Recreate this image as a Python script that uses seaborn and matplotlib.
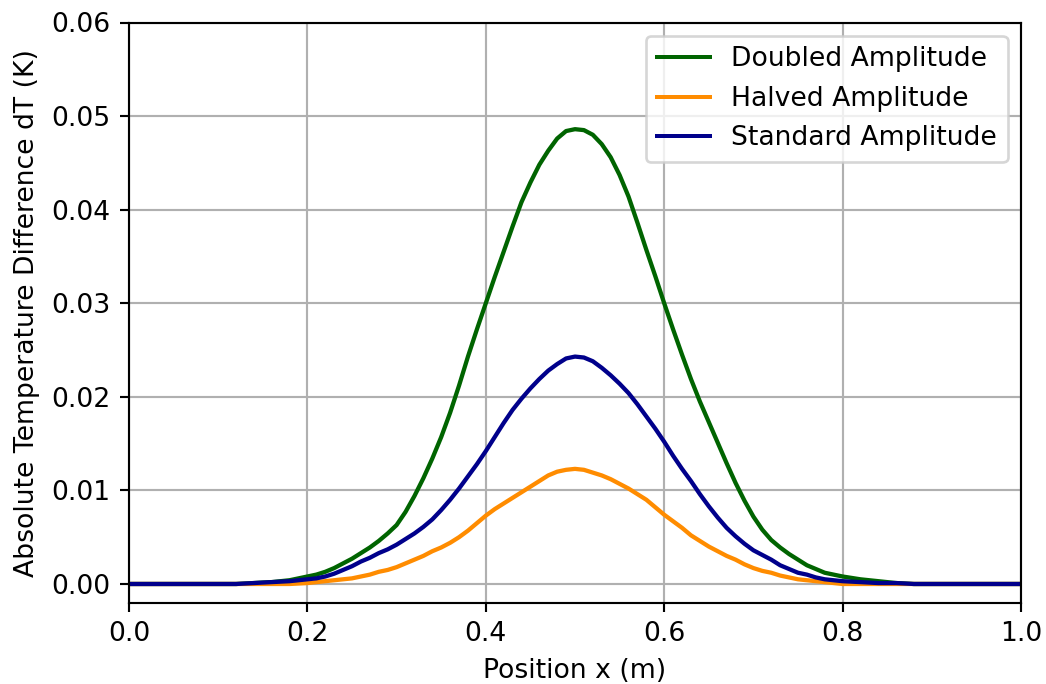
import numpy as np
import pandas as pd
import matplotlib
matplotlib.use("Agg")
import matplotlib.pyplot as plt
import seaborn as sns

# Position grid (m): coarse on the flat tails, finer across the pulse
position = ([0.00, 0.02, 0.04, 0.06, 0.08, 0.10, 0.12, 0.14, 0.16, 0.18] +
            [0.20, 0.21, 0.22, 0.23, 0.24, 0.25, 0.26, 0.27, 0.28, 0.29,
             0.30, 0.31, 0.32, 0.33, 0.34, 0.35, 0.36, 0.37, 0.38, 0.39,
             0.40, 0.41, 0.42, 0.43, 0.44, 0.45, 0.46, 0.47, 0.48, 0.49,
             0.50, 0.51, 0.52, 0.53, 0.54, 0.55, 0.56, 0.57, 0.58, 0.59,
             0.60, 0.61, 0.62, 0.63, 0.64, 0.65, 0.66, 0.67, 0.68, 0.69,
             0.70, 0.71, 0.72, 0.73, 0.74, 0.75, 0.76, 0.77, 0.78, 0.79, 0.80] +
            [0.82, 0.84, 0.86, 0.88, 0.90, 0.92, 0.94, 0.96, 0.98, 1.00])

doubled = ([0, 0, 0, 0, 0, 0, 0, 0.0001, 0.0002, 0.0004] +
           [0.0008, 0.0010, 0.0013, 0.0017, 0.0022, 0.0027, 0.0033, 0.0039, 0.0046, 0.0054,
            0.0063, 0.0077, 0.0094, 0.0113, 0.0134, 0.0157, 0.0183, 0.0212, 0.0243, 0.0272,
            0.0300, 0.0328, 0.0355, 0.0382, 0.0408, 0.0429, 0.0448, 0.0463, 0.0476, 0.0484,
            0.0486, 0.0485, 0.0480, 0.0470, 0.0456, 0.0437, 0.0414, 0.0386, 0.0357, 0.0329,
            0.0300, 0.0272, 0.0245, 0.0219, 0.0195, 0.0173, 0.0151, 0.0129, 0.0108, 0.0089,
            0.0072, 0.0058, 0.0047, 0.0039, 0.0032, 0.0026, 0.0020, 0.0016, 0.0012, 0.0010, 0.0008] +
           [0.0005, 0.0003, 0.0001, 0, 0, 0, 0, 0, 0, 0])

halved = ([0, 0, 0, 0, 0, 0, 0, 0, 0, 0] +
          [0.0001, 0.0002, 0.0003, 0.0004, 0.0005, 0.0006, 0.0008, 0.0010, 0.0013, 0.0015,
           0.0018, 0.0022, 0.0026, 0.0030, 0.0035, 0.0039, 0.0044, 0.0050, 0.0057, 0.0065,
           0.0073, 0.0080, 0.0086, 0.0092, 0.0098, 0.0104, 0.0110, 0.0116, 0.0120, 0.0122,
           0.0123, 0.0122, 0.0119, 0.0116, 0.0112, 0.0107, 0.0102, 0.0096, 0.0090, 0.0082,
           0.0074, 0.0067, 0.0060, 0.0052, 0.0046, 0.0040, 0.0035, 0.0030, 0.0026, 0.0021,
           0.0017, 0.0014, 0.0012, 0.0009, 0.0007, 0.0005, 0.0004, 0.0003, 0.0002, 0.0001, 0] +
          [0, 0, 0, 0, 0, 0, 0, 0, 0, 0])

standard = ([0, 0, 0, 0, 0, 0, 0, 0.0001, 0.0002, 0.0003] +
            [0.0005, 0.0006, 0.0008, 0.0011, 0.0015, 0.0019, 0.0024, 0.0028, 0.0033, 0.0037,
             0.0042, 0.0048, 0.0054, 0.0061, 0.0069, 0.0079, 0.0090, 0.0102, 0.0115, 0.0128,
             0.0142, 0.0157, 0.0172, 0.0186, 0.0198, 0.0209, 0.0219, 0.0228, 0.0235, 0.0241,
             0.0243, 0.0242, 0.0238, 0.0231, 0.0223, 0.0214, 0.0204, 0.0192, 0.0179, 0.0166,
             0.0152, 0.0137, 0.0123, 0.0110, 0.0096, 0.0083, 0.0071, 0.0060, 0.0051, 0.0043,
             0.0036, 0.0031, 0.0026, 0.0020, 0.0016, 0.0012, 0.0010, 0.0007, 0.0005, 0.0004, 0.0003] +
            [0.0002, 0.0001, 0.0001, 0, 0, 0, 0, 0, 0, 0])

series_names = ["Doubled Amplitude", "Halved Amplitude", "Standard Amplitude"]
series_colors = ["darkgreen", "darkorange", "darkblue"]
x_ticks = [0.0, 0.2, 0.4, 0.6, 0.8, 1.0]
x_tick_labels = ["0.0", "0.2", "0.4", "0.6", "0.8", "1.0"]
y_ticks = [0.00, 0.01, 0.02, 0.03, 0.04, 0.05, 0.06]
y_tick_labels = ["0.00", "0.01", "0.02", "0.03", "0.04", "0.05", "0.06"]

df = pd.concat([
    pd.DataFrame({"x": position, "dT": vals, "case": name})
    for name, vals in zip(series_names, [doubled, halved, standard])
], ignore_index=True)

DPI = 192
fig = plt.figure(figsize=(1046 / DPI, 684 / DPI), dpi=DPI)
ax = fig.add_axes([129 / 1046, 1 - 602.7 / 684, (1021 - 129) / 1046, (602.7 - 22.5) / 684])

sns.lineplot(data=df, x="x", y="dT", hue="case", hue_order=series_names,
             palette=series_colors, linewidth=1.6, ax=ax, legend=True)

ax.set_xlim(0, 1.0)
ax.set_ylim(-0.002, 0.06)
ax.set_xticks(x_ticks)
ax.set_xticklabels(x_tick_labels)
ax.set_yticks(y_ticks)
ax.set_yticklabels(y_tick_labels)
ax.grid(True, color="#b0b0b0", linewidth=0.8)
ax.set_axisbelow(True)
ax.set_xlabel("Position x (m)")
ax.set_ylabel("Absolute Temperature Difference dT (K)")

handles, labels = ax.get_legend_handles_labels()
for h in handles:
    h.set_linewidth(1.5)
ax.legend(handles, labels, loc="upper right")

fig.savefig("out.png", dpi=DPI)
